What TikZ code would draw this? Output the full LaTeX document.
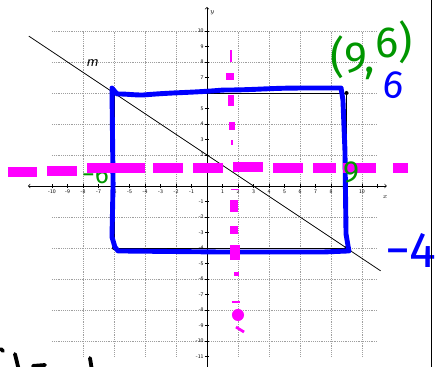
\documentclass[tikz,border=0pt]{standalone}
\usepackage{fontspec}
\newfontfamily\handfont{Fira Sans}
\usepackage{tikz}

\definecolor{pinkmark}{RGB}{255,0,255}
\definecolor{bluemark}{RGB}{0,0,255}
\definecolor{greenmark}{RGB}{0,150,0}

\tikzset{
  blueink/.style={bluemark,line width=4.5pt,line cap=round,line join=round},
  pinkink/.style={pinkmark,line width=9pt},
  greenink/.style={greenmark,inner sep=0pt},
  ticklabel/.style={font=\sffamily\fontsize{5}{6}\selectfont,inner sep=0.8pt},
}

\begin{document}
\begin{tikzpicture}[x=0.5cm,y=0.5cm]
  \clip (-13.355,-11.677) rectangle (15.42,12);
  \fill[white] (-13.355,-11.677) rectangle (15.42,12);
  \draw[gray!75,line width=0.7pt,densely dotted] (-10,-11) grid (11,10);
  \draw[<->,line width=0.6pt] (-11.55,0) -- (11.6,0);
  \draw[->,line width=0.6pt] (0,-12.5) -- (0,11.55);
  \node[ticklabel,font=\itshape\fontsize{6}{7}\selectfont] (xlab) at (11.5,-0.7) {$x$};
  \node[ticklabel,font=\itshape\fontsize{6}{7}\selectfont] (ylab) at (0.35,11.2) {$y$};
  \foreach \i in {-10,...,11} \draw[line width=0.5pt] (\i,-0.13) -- (\i,0.13);
  \foreach \i in {-11,...,10} \draw[line width=0.5pt] (-0.13,\i) -- (0.13,\i);
  \foreach \i in {-10,...,10} {
    \ifnum\i=0 \else
      \node[ticklabel,anchor=north] (xt\i) at (\i,-0.2) {\i};
      \node[ticklabel,anchor=east] (yt\i) at (-0.15,\i) {\i};
    \fi
  }
  \node[ticklabel,anchor=east] (yt-11) at (-0.15,-11) {-11};

  \draw[line width=0.7pt] (-11.5,9.67) -- (11.2,-5.47);
  \node[font=\sffamily\itshape\fontsize{14}{16}\selectfont] (mlab) at (-7.42,7.94) {m};

  \draw[line width=0.8pt] (-6,-4) rectangle (9,6);
  \foreach \p in {(-6,6),(9,6),(-6,-4),(9,-4)} \fill \p circle (0.13);

  \draw[blueink] (-6.13,6.32) -- (-5.81,5.94) to[out=0,in=180] (-4.13,5.87)
    to[out=5,in=185] (1.03,6.19) to[out=0,in=180] (6,6.32) -- (8.65,6.32)
    -- (8.77,5.55) -- (8.9,2.32) -- (8.97,-3.1) -- (9.1,-3.87) -- (9.16,-4.19)
    -- (7.48,-4.26) -- (1.03,-4.26) -- (-5.74,-4.19) -- (-5.94,-3.94)
    -- (-6.13,-3.29) -- (-6.06,0.13) -- (-6.13,6.19);
  \node[bluemark,inner sep=0pt,font=\handfont\fontsize{36}{36}\selectfont,rotate=-8] (six) at (12.06,6.5) {6};
  \node[bluemark,inner sep=0pt,font=\handfont\fontsize{46}{46}\selectfont] (minusfour) at (13.16,-4.19) {−4};

  \node[greenink,font=\handfont\fontsize{24}{24}\selectfont] (minussix) at (-7.2,0.7) {−6};

  \foreach \a/\b/\y in {-12.84/-10.97/0.9,-10.32/-8.39/0.97,-7.74/-4.0/1.16,
      -3.48/-1.55/1.16,-0.9/1.03/1.16,1.68/3.61/1.2,4.26/6.19/1.16,
      6.84/8.32/1.16,8.77/10.9/1.16,12.0/12.97/1.16}
    \draw[pinkink] (\a,\y) -- (\b,\y);
  \foreach \x/\ya/\yb/\w in {1.55/8.77/8.0/1.5,1.5/7.29/6.84/7,1.55/5.87/5.16/5,
      1.6/4.13/3.61/5,1.6/2.97/2.65/1.5,1.8/-0.19/-0.26/7,1.75/-0.9/-1.68/8,
      1.75/-2.58/-3.1/8,1.8/-3.81/-4.77/9,1.9/-5.55/-5.8/4}
    \draw[pinkmark,line width=\w pt] (\x,\ya) -- (\x,\yb);
  \draw[pinkmark,line width=1.5pt] (1.6,-7.5) -- (2.1,-7.5);
  \fill[pinkmark] (2.0,-8.32) circle (0.39);
  \draw[pinkmark,line width=2.5pt] (1.87,-9.1) -- (2.39,-9.42);

  \node[greenink,font=\handfont\fontsize{28}{28}\selectfont] (nine) at (9.3,0.85) {9};
  \node[greenink,font=\handfont\fontsize{40}{40}\selectfont,anchor=base west] (point) at (7.94,7.3) {(9,\raisebox{14pt}{6)}};

  \draw[line width=0.8pt] (14.45,-12) -- (14.45,12.5);
  \draw[line width=3.5pt,line cap=round] (-13.29,-10.52) -- (-13.16,-10.65);
  \draw[line width=3.5pt,line cap=round] (-12.39,-10.84) -- (-12.13,-11.9);
  \draw[line width=3.5pt,line cap=round] (-11.23,-11.61) -- (-10.45,-11.55);
  \draw[line width=3.5pt,line cap=round] (-7.55,-11.1) -- (-7.42,-11.9);
\end{tikzpicture}
\end{document}
